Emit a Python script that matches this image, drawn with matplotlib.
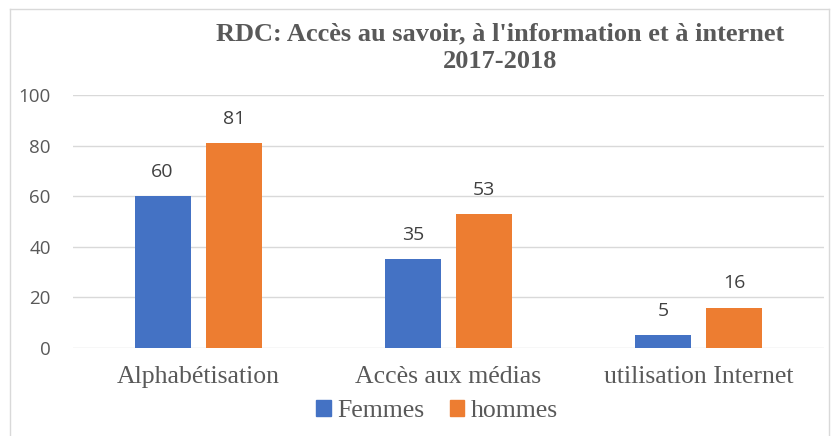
import numpy as np
import matplotlib.pyplot as plt
from matplotlib.lines import Line2D
from matplotlib.patches import Patch
from matplotlib.font_manager import FontProperties

# Data
categories = ['Alphabétisation', 'Accès aux médias', 'utilisation Internet']
femmes = [60, 35, 5]
hommes = [81, 53, 16]
series_names = ['Femmes', 'hommes']
yticks = [0, 20, 40, 60, 80, 100]

blue = '#4472C4'
orange = '#ED7D31'
grey_text = '#595959'

fig = plt.figure(figsize=(8.31, 4.36), dpi=100)
ax = fig.add_axes([73 / 831, 1 - 348 / 436, 751 / 831, 253 / 436])

x = np.arange(len(categories))
width = 0.224
offset = 0.142

bars_f = ax.bar(x - offset, femmes, width, color=blue, zorder=3, label=series_names[0])
bars_h = ax.bar(x + offset, hommes, width, color=orange, zorder=3, label=series_names[1])

# Value labels above the bars
for bars in (bars_f, bars_h):
    for b in bars:
        ax.annotate(f"{b.get_height():.0f}", (b.get_x() + b.get_width() / 2, b.get_height()),
                    xytext=(0, 11), textcoords='offset points', ha='center', va='bottom',
                    fontsize=14, color='#404040', family='Open Sans')

ax.set_xlim(-0.5, 2.5)
ax.set_ylim(0, 100)
ax.set_yticks(yticks)
ax.set_yticklabels([str(t) for t in yticks], fontsize=13.5, color=grey_text, family='Open Sans')
ax.set_xticks(x)
ax.set_xticklabels(categories, fontsize=18.5, color=grey_text, family='Liberation Serif')
ax.tick_params(axis='both', length=0)
ax.tick_params(axis='y', pad=16)
ax.tick_params(axis='x', pad=13)

ax.yaxis.grid(True, color='#d9d9d9', linewidth=1, zorder=0)
for s in ax.spines.values():
    s.set_visible(False)

# Title
title_font = FontProperties(family='Liberation Serif', weight='bold', size=19)
fig.text(500 / 831, 1 - 34 / 436, "RDC: Accès au savoir, à l'information et à internet",
         ha='center', va='center', fontproperties=title_font, color=grey_text)
fig.text(500 / 831, 1 - 62 / 436, "2017-2018",
         ha='center', va='center', fontproperties=title_font, color=grey_text)

# Legend
handles = [Patch(color=blue), Patch(color=orange)]
legend_font = FontProperties(family='Liberation Serif', size=18.5)
leg = fig.legend(handles, series_names, loc='center', bbox_to_anchor=(437 / 831, 1 - 411 / 436),
                 ncol=2, frameon=False, handlelength=0.55, handleheight=0.55, handletextpad=0.25,
                 columnspacing=1.0, prop=legend_font, borderpad=0)
for t in leg.get_texts():
    t.set_fontproperties(legend_font)
    t.set_color(grey_text)

# Chart border
border_kw = dict(color='#d9d9d9', linewidth=1, transform=fig.transFigure)
fig.add_artist(Line2D([10 / 831, 10 / 831], [0, 1 - 9 / 436], **border_kw))
fig.add_artist(Line2D([10 / 831, 829 / 831], [1 - 9 / 436, 1 - 9 / 436], **border_kw))
fig.add_artist(Line2D([829 / 831, 829 / 831], [0, 1 - 9 / 436], **border_kw))

fig.savefig('out.png', dpi=100)
